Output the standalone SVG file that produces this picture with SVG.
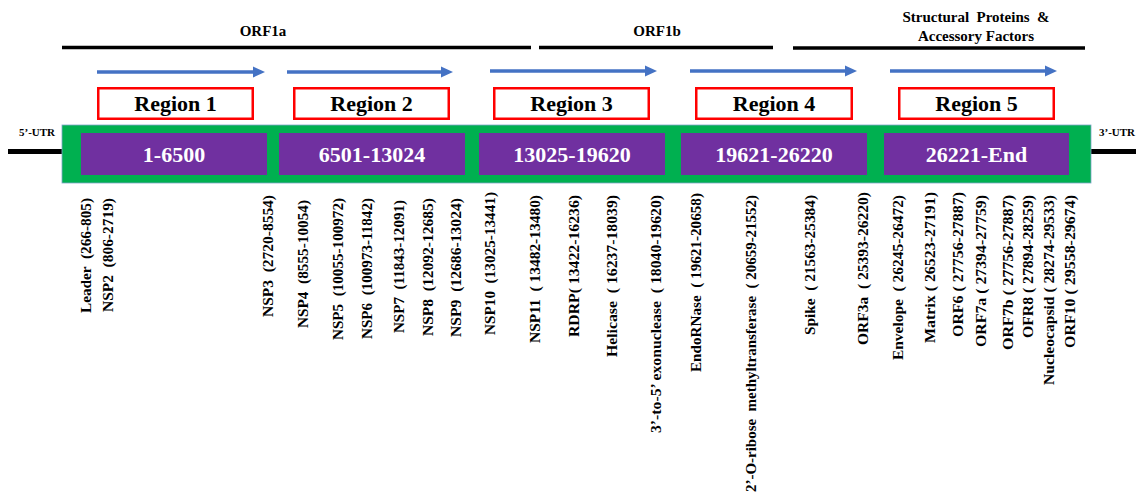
<svg xmlns="http://www.w3.org/2000/svg" width="1136" height="497" viewBox="0 0 1136 497">
<style>
.t{font-family:'Liberation Serif','LiberationSerif','Tinos','DejaVu Serif','Noto Serif',serif;font-weight:700;fill:#000;white-space:pre}
.orf{font-size:15px;text-anchor:middle}
.utr{font-size:11px}
.reg{font-size:22px;text-anchor:middle}
.rng{font-family:'Liberation Serif','LiberationSerif','Tinos','DejaVu Serif','Noto Serif',serif;font-weight:700;font-size:22px;fill:#fff;text-anchor:middle}
.lab{font-size:15px}
.rbox{fill:#fff;stroke:#ff0000;stroke-width:2.5}
.pbox{fill:#7030A0}
.bar{stroke:#000;stroke-width:3.5}
.arr{stroke:#4472C4;stroke-width:3.5;marker-end:url(#ah)}
</style>
<defs>
<marker id="ah" markerUnits="userSpaceOnUse" markerWidth="13" markerHeight="12" refX="0" refY="6" orient="auto">
<path d="M0,0.5 L12,6 L0,11.5 z" fill="#4472C4"/>
</marker>
</defs>
<rect width="1136" height="497" fill="#fff"/>

<g id="orf-headers">
<line class="bar" x1="62" y1="47.5" x2="531" y2="47.5"/>
<line class="bar" x1="539" y1="47.5" x2="773" y2="47.5"/>
<line class="bar" x1="793" y1="48" x2="1085" y2="48"/>
<text class="t orf" x="263" y="36">ORF1a</text>
<text class="t orf" x="657" y="36">ORF1b</text>
<text class="t orf" x="976" y="22" font-size="14">Structural  Proteins  &amp;</text>
<text class="t orf" x="976" y="41" font-size="14">Accessory Factors</text>
</g>

<g id="connectors">
<line class="arr" x1="97" y1="72" x2="253" y2="72"/>
<line class="arr" x1="287" y1="72" x2="441" y2="72"/>
<line class="arr" x1="490" y1="71" x2="645" y2="71"/>
<line class="arr" x1="690" y1="71" x2="845" y2="71"/>
<line class="arr" x1="890" y1="71" x2="1045" y2="71"/>
</g>

<g id="utr">
<line x1="8" y1="151.5" x2="62" y2="151.5" stroke="#000" stroke-width="5"/>
<line x1="1091" y1="151.5" x2="1136" y2="151.5" stroke="#000" stroke-width="5"/>
<text class="t utr" x="19" y="136">5’-UTR</text>
<text class="t utr" x="1099" y="136">3’-UTR</text>
</g>

<g id="genome">
<rect x="62" y="125" width="1029" height="58" fill="#00B050" stroke="#7fa6c9" stroke-width="0.8"/>
</g>

<g id="region1">
<rect class="rbox" x="98.25" y="88.25" width="154.5" height="30.5"/>
<text class="t reg" x="175.5" y="111">Region 1</text>
<rect class="pbox" x="81" y="133" width="186" height="42"/>
<text class="rng" x="174" y="162">1-6500</text>
</g>
<g id="region2">
<rect class="rbox" x="294.25" y="88.25" width="154.5" height="30.5"/>
<text class="t reg" x="371.5" y="111">Region 2</text>
<rect class="pbox" x="279" y="133" width="186" height="42"/>
<text class="rng" x="372" y="162">6501-13024</text>
</g>
<g id="region3">
<rect class="rbox" x="494.25" y="88.25" width="154.5" height="30.5"/>
<text class="t reg" x="571.5" y="111">Region 3</text>
<rect class="pbox" x="479" y="133" width="186" height="42"/>
<text class="rng" x="572" y="162">13025-19620</text>
</g>
<g id="region4">
<rect class="rbox" x="696.25" y="88.25" width="155.5" height="30.5"/>
<text class="t reg" x="774" y="111">Region 4</text>
<rect class="pbox" x="681" y="133" width="186" height="42"/>
<text class="rng" x="774" y="162">19621-26220</text>
</g>
<g id="region5">
<rect class="rbox" x="899.25" y="88.25" width="154.5" height="30.5"/>
<text class="t reg" x="976.5" y="111">Region 5</text>
<rect class="pbox" x="884" y="133" width="185" height="42"/>
<text class="rng" x="976.5" y="162">26221-End</text>
</g>

<g id="gene-labels">
<text class="t lab" transform="translate(90.5,313) rotate(-90)" textLength="115" lengthAdjust="spacingAndGlyphs">Leader  (266-805)</text>
<text class="t lab" transform="translate(112.5,312) rotate(-90)" textLength="114" lengthAdjust="spacingAndGlyphs">NSP2  (806-2719)</text>
<text class="t lab" transform="translate(272.5,317) rotate(-90)" textLength="122" lengthAdjust="spacingAndGlyphs">NSP3  (2720-8554)</text>
<text class="t lab" transform="translate(308,328) rotate(-90)" textLength="128" lengthAdjust="spacingAndGlyphs">NSP4  (8555-10054)</text>
<text class="t lab" transform="translate(342.5,340) rotate(-90)" textLength="142" lengthAdjust="spacingAndGlyphs">NSP5  (10055-100972)</text>
<text class="t lab" transform="translate(371.5,339) rotate(-90)" textLength="141" lengthAdjust="spacingAndGlyphs">NSP6  (100973-11842)</text>
<text class="t lab" transform="translate(403.5,333) rotate(-90)" textLength="133" lengthAdjust="spacingAndGlyphs">NSP7  (11843-12091)</text>
<text class="t lab" transform="translate(432.5,336) rotate(-90)" textLength="138" lengthAdjust="spacingAndGlyphs">NSP8  (12092-12685)</text>
<text class="t lab" transform="translate(460.5,337) rotate(-90)" textLength="139" lengthAdjust="spacingAndGlyphs">NSP9  (12686-13024)</text>
<text class="t lab" transform="translate(494.5,335) rotate(-90)" textLength="143" lengthAdjust="spacingAndGlyphs">NSP10  (13025-13441)</text>
<text class="t lab" transform="translate(539.5,343) rotate(-90)" textLength="148" lengthAdjust="spacingAndGlyphs">NSP11  ( 13482-13480)</text>
<text class="t lab" transform="translate(578.5,337) rotate(-90)" textLength="142" lengthAdjust="spacingAndGlyphs">RDRP( 13422-16236)</text>
<text class="t lab" transform="translate(616.5,357) rotate(-90)" textLength="162" lengthAdjust="spacingAndGlyphs">Helicase  ( 16237-18039)</text>
<text class="t lab" transform="translate(660.5,433) rotate(-90)" textLength="238" lengthAdjust="spacingAndGlyphs">3’-to-5’ exonuclease  ( 18040-19620)</text>
<text class="t lab" transform="translate(700.5,372) rotate(-90)" textLength="179" lengthAdjust="spacingAndGlyphs">EndoRNase  ( 19621-20658)</text>
<text class="t lab" transform="translate(755.5,492) rotate(-90)" textLength="297" lengthAdjust="spacingAndGlyphs">2’-O-ribose  methyltransferase  ( 20659-21552)</text>
<text class="t lab" transform="translate(814.5,335) rotate(-90)" textLength="140" lengthAdjust="spacingAndGlyphs">Spike  ( 21563-25384)</text>
<text class="t lab" transform="translate(867.5,345) rotate(-90)" textLength="153" lengthAdjust="spacingAndGlyphs">ORF3a  ( 25393-26220)</text>
<text class="t lab" transform="translate(902.5,360) rotate(-90)" textLength="165" lengthAdjust="spacingAndGlyphs">Envelope  ( 26245-26472)</text>
<text class="t lab" transform="translate(934.5,343) rotate(-90)" textLength="151" lengthAdjust="spacingAndGlyphs">Matrix ( 26523-27191)</text>
<text class="t lab" transform="translate(962.5,337) rotate(-90)" textLength="145" lengthAdjust="spacingAndGlyphs">ORF6 ( 27756-27887)</text>
<text class="t lab" transform="translate(985.5,347) rotate(-90)" textLength="152" lengthAdjust="spacingAndGlyphs">ORF7a ( 27394-27759)</text>
<text class="t lab" transform="translate(1012.5,350) rotate(-90)" textLength="155" lengthAdjust="spacingAndGlyphs">ORF7b ( 27756-27887)</text>
<text class="t lab" transform="translate(1032.5,338) rotate(-90)" textLength="143" lengthAdjust="spacingAndGlyphs">OFR8 ( 27894-28259)</text>
<text class="t lab" transform="translate(1053.5,385) rotate(-90)" textLength="190" lengthAdjust="spacingAndGlyphs">Nucleocapsid ( 28274-29533)</text>
<text class="t lab" transform="translate(1074.5,348) rotate(-90)" textLength="153" lengthAdjust="spacingAndGlyphs">ORF10 ( 29558-29674)</text>
</g>
</svg>
